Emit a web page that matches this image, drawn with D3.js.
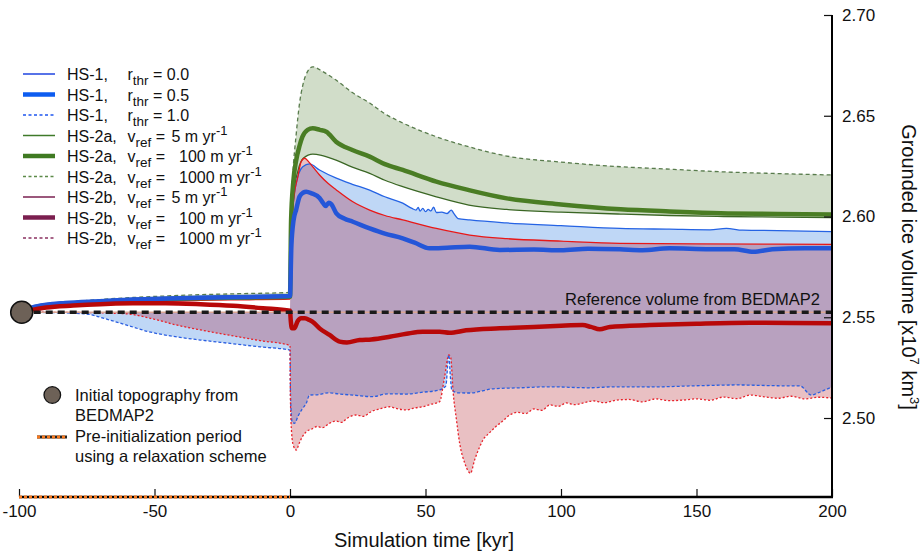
<!DOCTYPE html>
<html><head><meta charset="utf-8">
<script src="https://cdn.jsdelivr.net/npm/d3@7"></script>
<style>
body{margin:0;background:#fff;}
svg{display:block;font-family:"Liberation Sans",Arial,Helvetica,sans-serif;}
</style></head><body>
<svg id="chart" width="921" height="552"></svg>
<script>
// ---------------- DATA ----------------
const xTicks = [-100, -50, 0, 50, 100, 150, 200];
const xTickLabels = ["-100", "-50", "0", "50", "100", "150", "200"];
const yTicks = [2.50, 2.55, 2.60, 2.65, 2.70];
const yTickLabels = ["2.50", "2.55", "2.60", "2.65", "2.70"];
const refVolume = 2.5525;
const initialPoint = [-99, 2.5525];
const preInitPeriod = [-100, 0];

// HS-1, r_thr = 0.0
const hs1_r00 = [[-99,2.5525],[-96,2.555],[-90,2.5568],[-80,2.5578],[-70,2.5586],[-58,2.5594],[-45,2.5599],[-33,2.5603],[-15,2.5607],[0,2.5611],
 [0.4,2.59],[1.2,2.607],[2.3,2.6165],[4.7,2.6247],[7.2,2.6261],[10.9,2.6231],[17.1,2.619],[23,2.616],[29.4,2.6131],[35,2.6098],[41.6,2.6066],
 [45,2.604],[46.5,2.6032],[47.3,2.6045],[48,2.6027],[49,2.604],[50,2.6024],[51,2.6035],[52,2.6028],[53,2.6046],[54,2.602],[56,2.6022],[58,2.6015],
 [59.5,2.6032],[60.5,2.6014],[62,2.599],[66.3,2.5983],[80,2.5968],[100,2.5955],[121.7,2.5941],[140,2.5937],[155,2.5934],[161,2.5941],[167,2.5932],[180,2.593],[200,2.5925]];
// HS-1, r_thr = 0.5
const hs1_r05 = [[-99,2.5525],[-97,2.554],[-95,2.5549],[-90,2.5562],[-83,2.5571],[-70,2.558],[-58,2.5588],[-45,2.5593],[-33,2.5597],[-15,2.5601],[0,2.5605],
 [0.5,2.585],[1.3,2.598],[2.3,2.6035],[3.5,2.6098],[4.8,2.6118],[6,2.6123],[8,2.6115],[10.9,2.6092],[12.3,2.6065],[13.2,2.6052],[14.3,2.6068],[15.3,2.606],
 [17.1,2.6016],[20,2.599],[23.2,2.5974],[29.4,2.5941],[35,2.5915],[41.6,2.5892],[46,2.587],[51.5,2.5842],[58,2.5845],[66.3,2.585],[77.4,2.5834],[90,2.5836],
 [100,2.5832],[110,2.584],[121.7,2.5837],[130,2.5833],[140,2.5842],[155,2.5838],[164,2.5838],[171,2.5825],[178,2.5838],[190,2.5843],[200,2.5842]];
// HS-1, r_thr = 1.0
const hs1_r10 = [[-99,2.5525],[-88,2.5523],[-80,2.552],[-74,2.5514],[-68,2.5492],[-60,2.546],[-52,2.5428],[-43,2.5405],[-33,2.5387],[-22,2.537],[-11,2.5353],[0,2.5337],
 [0.2,2.51],[0.8,2.498],[1.7,2.4974],[3,2.501],[4.5,2.5045],[6,2.5073],[7.2,2.5114],[10,2.5115],[14,2.5125],[18.3,2.5119],[24,2.5113],[30.5,2.5106],[36,2.512],
 [42.9,2.5119],[49,2.5128],[55.2,2.5139],[57.5,2.516],[58.6,2.5313],[59.2,2.52],[59.7,2.5139],[62,2.5125],[66.3,2.5124],[75,2.5145],[85,2.515],[95.9,2.5155],
 [110,2.515],[120,2.5155],[132.8,2.5154],[150,2.516],[164.9,2.5164],[180,2.516],[188.2,2.5159],[192.3,2.5114],[195.6,2.5129],[200,2.5154]];
// HS-2a, v_ref = 5
const hs2a_5 = [[-99,2.5525],[-95,2.5539],[-90,2.5551],[-80,2.5563],[-70,2.5572],[-58,2.558],[-45,2.5586],[-33,2.559],[-15,2.5594],[0,2.5598],
 [0.4,2.59],[1.5,2.612],[3,2.623],[5,2.629],[8.4,2.631],[12,2.6302],[17,2.628],[23,2.6245],[29.4,2.6214],[35,2.618],[41.6,2.6148],[54,2.6098],[66,2.6057],
 [80,2.6035],[100,2.6022],[122,2.6012],[140,2.6005],[160,2.600],[180,2.5997],[200,2.5994]];
// HS-2a, v_ref = 100
const hs2a_100 = [[-99,2.5525],[-95,2.5543],[-90,2.5555],[-80,2.5567],[-70,2.5576],[-58,2.5584],[-45,2.559],[-33,2.5594],[-15,2.5598],[0,2.5602],
 [0.4,2.598],[1.2,2.617],[2.3,2.628],[3.5,2.635],[4.6,2.6396],[6.5,2.643],[8.4,2.6438],[11,2.643],[13.4,2.6421],[17,2.6371],[23,2.633],[29.4,2.6297],[35,2.626],
 [41.6,2.6231],[54,2.6173],[66,2.6131],[80,2.609],[100,2.606],[122,2.6036],[140,2.6025],[159,2.6016],[180,2.6013],[200,2.601]];
// HS-2a, v_ref = 1000
const hs2a_1000 = [[-99,2.5525],[-90,2.5562],[-80,2.5577],[-70,2.5588],[-58,2.5598],[-45,2.5606],[-33,2.5612],[-15,2.5618],[0,2.5623],
 [0.3,2.60],[1,2.62],[2.3,2.641],[3.5,2.656],[4.7,2.665],[6.5,2.672],[8.4,2.6743],[12,2.672],[17,2.6677],[23,2.6615],[29.4,2.6563],[35,2.651],[41.6,2.6464],
 [54,2.6396],[66,2.6346],[80,2.630],[100,2.627],[122,2.6247],[140,2.6235],[159,2.6222],[180,2.6213],[200,2.6206]];
// HS-2b, v_ref = 5
const hs2b_5 = [[-99,2.5525],[-95,2.554],[-90,2.555],[-80,2.556],[-70,2.5568],[-58,2.5575],[-45,2.558],[-33,2.5584],[-15,2.5587],[0,2.559],
 [0.4,2.59],[1.5,2.61],[2.9,2.6198],[4.1,2.6272],[5.4,2.6289],[7,2.627],[8.5,2.6245],[10.9,2.6206],[14,2.6165],[17.1,2.6132],[23.2,2.6073],[29.4,2.6032],
 [35,2.6005],[41.6,2.5983],[54,2.5941],[66.3,2.5908],[80,2.589],[100,2.5878],[121.7,2.5867],[150,2.5864],[200,2.5862]];
// HS-2b, v_ref = 100
const hs2b_100 = [[-99,2.5525],[-96,2.5534],[-90,2.5548],[-80,2.5558],[-70,2.5565],[-58,2.5569],[-46,2.557],[-33,2.5565],[-21,2.5557],[-10,2.5545],[0,2.5532],
 [0.3,2.548],[0.7,2.5445],[1.6,2.5445],[2.8,2.548],[4.1,2.5495],[5.5,2.5495],[7.2,2.5486],[9,2.547],[10.9,2.5445],[14.6,2.5412],[18.3,2.5379],[21,2.5375],
 [25.7,2.5387],[30,2.539],[36.8,2.5403],[43,2.5418],[49,2.5428],[55.2,2.5428],[58.9,2.5423],[65,2.5435],[77.4,2.5445],[90,2.5452],[100,2.5458],[108,2.5461],
 [111,2.5452],[114.3,2.544],[118,2.5452],[132.8,2.5461],[150,2.5468],[169.8,2.5473],[185,2.5472],[200,2.547]];
// HS-2b, v_ref = 1000
const hs2b_1000 = [[-99,2.5525],[-80,2.5524],[-65,2.552],[-59,2.5515],[-50,2.549],[-42,2.5462],[-33,2.5437],[-22,2.541],[-11,2.5384],[0,2.536],
 [0.15,2.51],[0.6,2.4925],[1.2,2.4865],[2.3,2.4841],[3.4,2.4875],[4.5,2.4905],[6,2.4932],[8,2.4945],[10,2.4958],[12,2.4952],[14.6,2.4974],[17,2.4985],
 [19,2.4978],[21,2.4998],[24.5,2.5015],[27,2.5008],[30,2.5032],[33,2.5045],[36.8,2.5056],[39,2.5048],[42.9,2.504],[46,2.505],[49,2.5056],[52,2.5068],
 [55.2,2.5081],[57,2.52],[58.6,2.5313],[59.3,2.530],[60.2,2.5128],[61.4,2.4993],[62.6,2.4875],[64.5,2.4776],[66.6,2.4726],[68.1,2.4791],[70,2.4857],
 [71.2,2.4891],[73.5,2.4925],[76,2.4958],[78.5,2.4985],[81.1,2.5015],[84,2.5028],[87,2.5022],[90,2.5045],[93,2.5038],[95.9,2.5065],[99,2.5058],[102,2.5075],
 [105,2.5066],[108,2.5074],[112,2.5085],[116,2.5076],[120.6,2.5089],[125,2.5092],[130,2.508],[135,2.5095],[140,2.5086],[145,2.5089],[150,2.5095],[155,2.5088],
 [160,2.5104],[165,2.5096],[169.8,2.5114],[175,2.5105],[180,2.5098],[185,2.5108],[190,2.5095],[195,2.5103],[200,2.5099]];

const legendGroups = ["HS-1,","HS-1,","HS-1,","HS-2a,","HS-2a,","HS-2a,","HS-2b,","HS-2b,","HS-2b,"];
const legendSymbols = ["r","r","r","v","v","v","v","v","v"];
const legendSubs = ["thr","thr","thr","ref","ref","ref","ref","ref","ref"];
const legendValues = ["0.0","0.5","1.0","5","100","1000","5","100","1000"];
const legendUnits = ["","","","m yr","m yr","m yr","m yr","m yr","m yr"];

// ---------------- DRAW ----------------
const svg = d3.select("#chart");
const x = d3.scaleLinear().domain([-100, 200]).range([19, 832]);
const y = d3.scaleLinear().domain([2.4608, 2.70]).range([497, 15]);
const line = d3.line().x(d => x(d[0])).y(d => y(d[1])).curve(d3.curveMonotoneX);

function bandPath(hi, lo, flatPre) {
  const h = flatPre ? hi.map(d => d[0] <= 0 ? [d[0], refVolume] : d) : hi;
  const top = line(h);
  const bot = line(lo.slice().reverse());
  return top + "L" + bot.slice(1) + "Z";
}

const defs = svg.append("defs");
defs.append("clipPath").attr("id", "clipHS1").append("path").attr("d", bandPath(hs1_r00, hs1_r10, true));

const gFill = svg.append("g");
gFill.append("path").attr("d", bandPath(hs2a_1000, hs2a_5, false)).attr("fill", "#d1ddc9");
gFill.append("path").attr("d", bandPath(hs1_r00, hs1_r10, true)).attr("fill", "#bfd7f6");
gFill.append("path").attr("d", bandPath(hs2b_5, hs2b_1000, true)).attr("fill", "#e9c0c3");
gFill.append("path").attr("d", bandPath(hs2b_5, hs2b_1000, true)).attr("fill", "#b8a1bf").attr("clip-path", "url(#clipHS1)");

const series = [
  {d: hs2a_1000, c: "#587b4c", w: 1.3, dash: "4,3"},
  {d: hs1_r10, c: "#2a5ee0", w: 1.3, dash: "3,2"},
  {d: hs2b_1000, c: "#e8222a", w: 1.3, dash: "2,2"},
  {d: hs2a_5, c: "#3a6624", w: 1.3, dash: null},
  {d: hs1_r00, c: "#2563e4", w: 1.3, dash: null},
  {d: hs2b_5, c: "#e81818", w: 1.3, dash: null},
  {d: hs2a_100, c: "#4a7d24", w: 4.5, dash: null},
  {d: hs1_r05, c: "#2456d8", w: 4.5, dash: null},
  {d: hs2b_100, c: "#b80808", w: 4.5, dash: null}
];
const gLines = svg.append("g").attr("fill", "none");
series.forEach(s => {
  gLines.append("path").attr("d", line(s.d)).attr("stroke", s.c).attr("stroke-width", s.w)
    .attr("stroke-dasharray", s.dash).attr("stroke-linejoin", "round");
});

// reference line
const refLine = [[-99, refVolume], [200, refVolume]];
svg.append("path").attr("d", line(refLine)).attr("stroke", "#d9a593").attr("stroke-width", 1.6).attr("fill", "none");
svg.append("path").attr("d", line(refLine)).attr("stroke", "#1a1a1a").attr("stroke-width", 3.4)
  .attr("stroke-dasharray", "7,5").attr("fill", "none");
svg.append("text").attr("x", 820).attr("y", 305).attr("text-anchor", "end")
  .attr("font-size", "16.5px").attr("fill", "#111").text("Reference volume from BEDMAP2");

// initial point
svg.append("circle").attr("cx", x(initialPoint[0])).attr("cy", y(initialPoint[1])).attr("r", 11)
  .attr("fill", "#6d6157").attr("stroke", "#111").attr("stroke-width", 1.5);

// axes
const xAxis = d3.axisBottom(x).tickValues(xTicks).tickSize(-8).tickSizeOuter(0).tickPadding(8)
  .tickFormat((d, i) => xTickLabels[i]);
const gx = svg.append("g").attr("transform", "translate(0,497)").call(xAxis);
gx.select(".domain").remove();
gx.selectAll("text").attr("font-size", "17px").attr("fill", "#111").attr("font-family", "Liberation Sans, Arial, sans-serif");
gx.selectAll(".tick line").attr("stroke", "#111").attr("stroke-width", 1.2);

const yAxis = d3.axisRight(y).tickValues(yTicks).tickSize(-8).tickSizeOuter(0).tickPadding(10)
  .tickFormat((d, i) => yTickLabels[i]);
const gy = svg.append("g").attr("transform", "translate(832,0)").call(yAxis);
gy.select(".domain").remove();
gy.selectAll("text").attr("font-size", "17px").attr("fill", "#111").attr("font-family", "Liberation Sans, Arial, sans-serif");
gy.selectAll(".tick line").attr("stroke", "#111").attr("stroke-width", 1.2);

svg.append("line").attr("x1", x(-100)).attr("x2", 833).attr("y1", 497).attr("y2", 497).attr("stroke", "#000").attr("stroke-width", 2.6);
svg.append("line").attr("x1", 832).attr("x2", 832).attr("y1", y(2.70)).attr("y2", 498).attr("stroke", "#000").attr("stroke-width", 2);
svg.append("line").attr("x1", x(preInitPeriod[0])).attr("x2", x(preInitPeriod[1])).attr("y1", 497).attr("y2", 497)
  .attr("stroke", "#f5781e").attr("stroke-width", 3).attr("stroke-dasharray", "3,2");

svg.append("text").attr("x", 424).attr("y", 547).attr("text-anchor", "middle").attr("font-size", "20px").attr("fill", "#111")
  .text("Simulation time [kyr]");
const yt = svg.append("text").attr("transform", "translate(902,267) rotate(90)").attr("text-anchor", "middle")
  .attr("font-size", "20px").attr("fill", "#111");
yt.append("tspan").text("Grounded ice volume [x10");
yt.append("tspan").attr("dy", -8).attr("font-size", "13px").text("7");
yt.append("tspan").attr("dy", 8).text(" km");
yt.append("tspan").attr("dy", -8).attr("font-size", "13px").text("3");
yt.append("tspan").attr("dy", 8).text("]");

// top legend
const legStyles = [
  {c: "#1f45e0", w: 1.5, dash: null}, {c: "#0d5cf0", w: 4.5, dash: null}, {c: "#1e55f0", w: 1.5, dash: "3,2.5"},
  {c: "#3f7a2a", w: 1.5, dash: null}, {c: "#3f7a22", w: 4.5, dash: null}, {c: "#5c8a48", w: 1.5, dash: "3,2.5"},
  {c: "#7a2050", w: 1.5, dash: null}, {c: "#7b1f4f", w: 4.5, dash: null}, {c: "#8b3060", w: 1.5, dash: "3,2.5"}
];
const valueX = {"0.0": null, "0.5": null, "1.0": null, "5": 171.5, "100": 179, "1000": 179};
const gLeg = svg.append("g");
legendGroups.forEach((g, i) => {
  const ly = 74 + i * 20.5;
  const st = legStyles[i];
  gLeg.append("line").attr("x1", 23).attr("x2", 55).attr("y1", ly).attr("y2", ly)
    .attr("stroke", st.c).attr("stroke-width", st.w).attr("stroke-dasharray", st.dash);
  const t = gLeg.append("text").attr("x", 67).attr("y", ly + 6).attr("font-size", "16px").attr("fill", "#111");
  t.append("tspan").text(g);
  t.append("tspan").attr("x", 127.5).text(legendSymbols[i]);
  t.append("tspan").attr("dy", 5).attr("font-size", "13.5px").text(legendSubs[i]);
  t.append("tspan").attr("dy", -5).text(" =");
  const vx = valueX[legendValues[i]];
  const vt = t.append("tspan").text((vx ? "" : " ") + legendValues[i] + (legendUnits[i] ? " " + legendUnits[i] : ""));
  if (vx) vt.attr("x", vx);
  if (legendUnits[i]) t.append("tspan").attr("dy", -7).attr("font-size", "13px").text("-1");
});

// bottom legend
svg.append("circle").attr("cx", 52.3).attr("cy", 395).attr("r", 8.3).attr("fill", "#6d6157").attr("stroke", "#111").attr("stroke-width", 1.3);
const bl = [["Initial topography from", 400.5], ["BEDMAP2", 420.5], ["Pre-initialization period", 441.5], ["using a relaxation scheme", 461.5]];
bl.forEach(b => svg.append("text").attr("x", 75).attr("y", b[1]).attr("font-size", "16.5px").attr("fill", "#111").text(b[0]));
svg.append("line").attr("x1", 37).attr("x2", 67).attr("y1", 437).attr("y2", 437).attr("stroke", "#222").attr("stroke-width", 3);
svg.append("line").attr("x1", 37).attr("x2", 67).attr("y1", 437).attr("y2", 437).attr("stroke", "#f5781e").attr("stroke-width", 3).attr("stroke-dasharray", "3,2");
</script></body></html>
